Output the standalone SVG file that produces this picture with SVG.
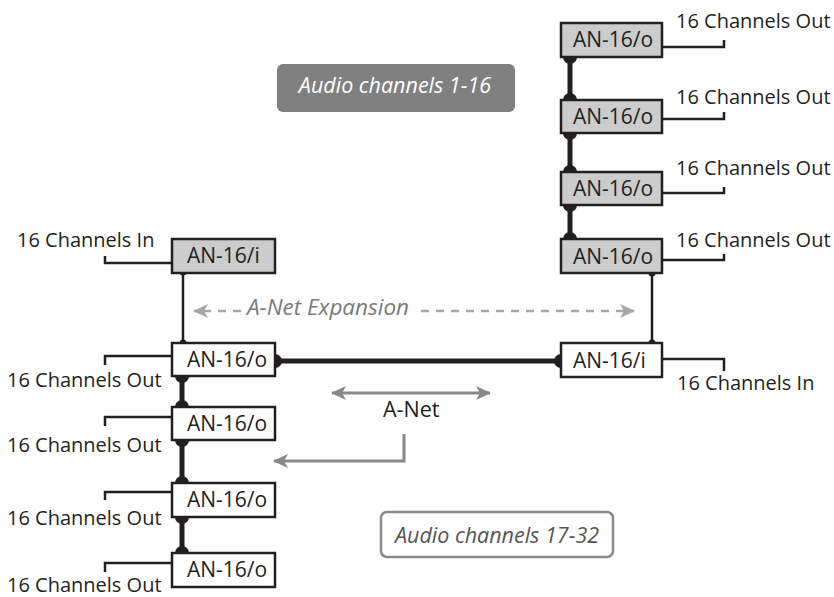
<svg xmlns="http://www.w3.org/2000/svg" width="834" height="597" viewBox="0 0 834 597">
<style>
text{font-family:"Open Sans","Liberation Sans",sans-serif;fill:#231f20}
.lbl{font-size:20px}
.bt{font-size:21px}
.box{stroke:#231f20;stroke-width:2.5}
.gray{fill:#cccccc}
.white{fill:#ffffff}
.thin{fill:none;stroke:#231f20;stroke-width:2.5}
.thick{fill:none;stroke:#231f20;stroke-width:5}
.bd{fill:#231f20}
.it{font-style:italic;font-size:21.5px}
</style>
<defs>
<marker id="ahL" markerUnits="userSpaceOnUse" markerWidth="16" markerHeight="14" refX="14" refY="7" orient="auto-start-reverse">
<path d="M0,0 L15,7 L0,14 L4,7 z" fill="#a6a6a6"/>
</marker>
<marker id="ahD" markerUnits="userSpaceOnUse" markerWidth="16" markerHeight="14" refX="14" refY="7" orient="auto-start-reverse">
<path d="M0,0 L15,7 L0,14 L4,7 z" fill="#888888"/>
</marker>
</defs>
<rect width="834" height="597" fill="#ffffff"/>

<g id="connectors">
<line class="thick" x1="570" y1="57" x2="570" y2="239"/>
<line class="thick" x1="182" y1="376" x2="182" y2="553"/>
<line class="thick" x1="275" y1="361" x2="561" y2="361"/>
<line class="thin" x1="183" y1="272" x2="183" y2="343"/>
<line class="thin" x1="652" y1="273" x2="652" y2="343"/>
<g class="bd">
<circle cx="570" cy="57" r="7"/><circle cx="570" cy="100" r="7"/>
<circle cx="570" cy="133" r="7"/><circle cx="570" cy="172" r="7"/>
<circle cx="570" cy="205" r="7"/><circle cx="570" cy="239" r="7"/>
<circle cx="182" cy="376" r="7"/><circle cx="182" cy="407" r="7"/>
<circle cx="182" cy="440" r="7"/><circle cx="182" cy="483" r="7"/>
<circle cx="182" cy="517" r="7"/><circle cx="182" cy="553" r="7"/>
<circle cx="275" cy="361" r="7"/><circle cx="561" cy="361" r="7"/>
<circle cx="183" cy="272" r="3.5"/><circle cx="183" cy="343" r="3.5"/>
<circle cx="652" cy="273" r="3.5"/><circle cx="652" cy="343" r="3.5"/>
</g>
<path class="thin" d="M662,47 H724 V40"/>
<path class="thin" d="M662,119 H724 V112"/>
<path class="thin" d="M662,193 H724 V187"/>
<path class="thin" d="M662,260 H724 V254"/>
<path class="thin" d="M172,263 H105 V256"/>
<path class="thin" d="M172,356 H105 V365"/>
<path class="thin" d="M172,417 H105 V426"/>
<path class="thin" d="M172,492 H105 V500"/>
<path class="thin" d="M172,563 H105 V572"/>
<path class="thin" d="M662,359 H724 V371"/>
<path d="M241,311 H194" fill="none" stroke="#a6a6a6" stroke-width="2.5" stroke-dasharray="8 7" marker-end="url(#ahL)"/>
<path d="M421,311 H634" fill="none" stroke="#a6a6a6" stroke-width="2.5" stroke-dasharray="8 7" marker-end="url(#ahL)"/>
<path d="M332,393 H490" fill="none" stroke="#888888" stroke-width="3" marker-start="url(#ahD)" marker-end="url(#ahD)"/>
<path d="M404,434 V461 H274" fill="none" stroke="#888888" stroke-width="3" marker-end="url(#ahD)"/>
</g>

<g id="r1"><rect class="box gray" x="561" y="23" width="101" height="34"/><text class="bt" x="573" y="47">AN-16/o</text></g>
<g id="r2"><rect class="box gray" x="561" y="100" width="101" height="33"/><text class="bt" x="573" y="124">AN-16/o</text></g>
<g id="r3"><rect class="box gray" x="561" y="172" width="101" height="33"/><text class="bt" x="573" y="196">AN-16/o</text></g>
<g id="r4"><rect class="box gray" x="561" y="239" width="101" height="34"/><text class="bt" x="573" y="264">AN-16/o</text></g>
<g id="ri"><rect class="box white" x="561" y="343" width="101" height="34"/><text class="bt" x="573" y="368">AN-16/i</text></g>

<g id="li"><rect class="box gray" x="172" y="239" width="103" height="34"/><text class="bt" x="187" y="263">AN-16/i</text></g>
<g id="l1"><rect class="box white" x="172" y="343" width="103" height="33"/><text class="bt" x="187" y="367">AN-16/o</text></g>
<g id="l2"><rect class="box white" x="172" y="407" width="103" height="33"/><text class="bt" x="187" y="431">AN-16/o</text></g>
<g id="l3"><rect class="box white" x="172" y="483" width="103" height="34"/><text class="bt" x="187" y="507">AN-16/o</text></g>
<g id="l4"><rect class="box white" x="172" y="553" width="103" height="34"/><text class="bt" x="187" y="577">AN-16/o</text></g>

<g id="labels">
<text class="lbl" x="676" y="28">16 Channels Out</text>
<text class="lbl" x="676" y="104">16 Channels Out</text>
<text class="lbl" x="676" y="175">16 Channels Out</text>
<text class="lbl" x="676" y="247">16 Channels Out</text>
<text class="lbl" x="677" y="390">16 Channels In</text>
<text class="lbl" x="17" y="247">16 Channels In</text>
<text class="lbl" x="7" y="387">16 Channels Out</text>
<text class="lbl" x="7" y="452">16 Channels Out</text>
<text class="lbl" x="7" y="525">16 Channels Out</text>
<text class="lbl" x="7" y="592">16 Channels Out</text>
<text x="247" y="315" style="fill:#7a7a7a;font-style:italic;font-size:22.5px">A-Net Expansion</text>
<text x="383" y="417" style="font-size:21.5px">A-Net</text>
</g>

<g id="audio1">
<rect x="277" y="64" width="238" height="48" rx="6" fill="#808080"/>
<text class="it" x="395" y="93" text-anchor="middle" style="fill:#ffffff">Audio channels 1-16</text>
</g>
<g id="audio2">
<rect x="381" y="512" width="232" height="45" rx="6" fill="#ffffff" stroke="#8a8a8a" stroke-width="2.5"/>
<text class="it" x="497" y="543" text-anchor="middle" style="fill:#555555">Audio channels 17-32</text>
</g>
</svg>
